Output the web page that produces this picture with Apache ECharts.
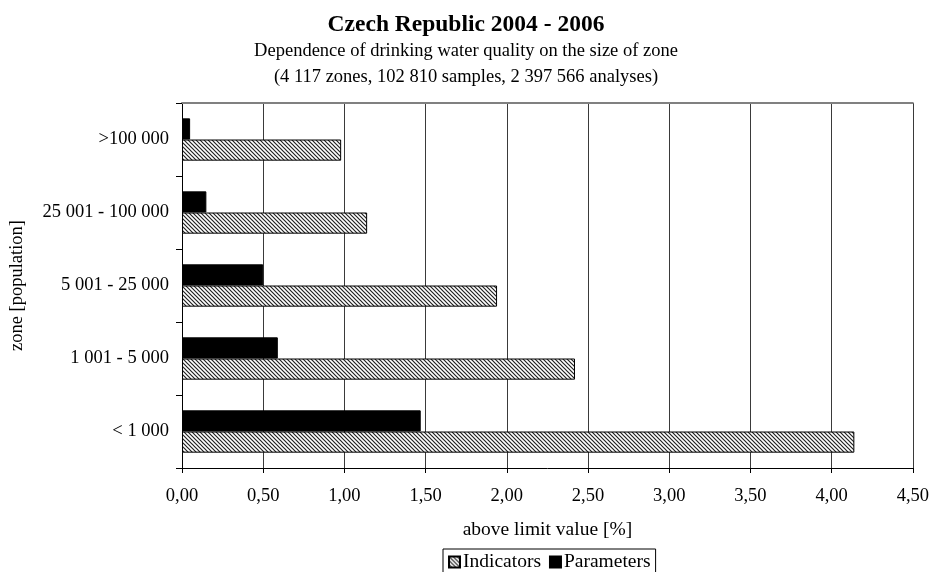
<!DOCTYPE html>
<html>
<head>
<meta charset="utf-8">
<title>Czech Republic 2004 - 2006</title>
<script src="https://cdn.jsdelivr.net/npm/echarts@6/dist/echarts.min.js"></script>
<style>
  html, body { margin: 0; padding: 0; background: #fff; }
  #chart { width: 932px; height: 572px; }
</style>
</head>
<body>
<div id="chart"></div>
<script>
// Zone size classes, listed from the bottom of the axis upwards
const zones = ['< 1 000', '1 001 - 5 000', '5 001 - 25 000', '25 001 - 100 000', '>100 000'];
// Share of results above the limit value [%]
const indicators = [4.14, 2.42, 1.94, 1.14, 0.98];
const parameters = [1.47, 0.59, 0.50, 0.15, 0.05];
// Value axis ticks
const xTicks = [0, 0.5, 1, 1.5, 2, 2.5, 3, 3.5, 4, 4.5];

const FONT = '"Liberation Serif", "DejaVu Serif", serif';
const FS = 18.5;
const FS_NAME = 19.5;

// Diagonal hatch fill for the Indicators bars
function hatch() {
  const c = document.createElement('canvas');
  c.width = 4; c.height = 4;
  const g = c.getContext('2d');
  g.fillStyle = '#fff';
  g.fillRect(0, 0, 4, 4);
  g.strokeStyle = '#222';
  g.lineWidth = 1.2;
  g.beginPath();
  g.moveTo(-1, -1); g.lineTo(5, 5);
  g.moveTo(-1, 3); g.lineTo(1, 5);
  g.moveTo(3, -1); g.lineTo(5, 1);
  g.stroke();
  return c;
}
const hatchFill = { image: hatch(), repeat: 'repeat' };

const chart = echarts.init(document.getElementById('chart'), null, { renderer: 'canvas' });

chart.setOption({
  animation: false,
  backgroundColor: '#fff',
  textStyle: { fontFamily: FONT, color: '#000' },
  title: {
    text: 'Czech Republic 2004 - 2006',
    subtext: 'Dependence of drinking water quality on the size of zone\n(4 117 zones, 102 810 samples, 2 397 566 analyses)',
    left: 'center',
    top: 12,
    itemGap: 0,
    padding: 0,
    textStyle: { fontFamily: FONT, fontSize: 23.5, fontWeight: 'bold', color: '#000', lineHeight: 26 },
    subtextStyle: { fontFamily: FONT, fontSize: FS, color: '#000', lineHeight: 26 }
  },
  legend: {
    data: ['Indicators', 'Parameters'],
    left: 443,
    top: 549,
    borderColor: '#000',
    borderWidth: 1,
    borderRadius: 0,
    padding: [3, 5, 3, 5],
    itemGap: 8,
    itemWidth: 11,
    itemHeight: 11,
    icon: 'rect',
    textStyle: { fontFamily: FONT, fontSize: FS_NAME, color: '#000', padding: [0, 0, 0, -2] }
  },
  grid: { left: 179, right: 19, top: 103, bottom: 104, containLabel: false },
  xAxis: [{
    type: 'value',
    min: xTicks[0],
    max: xTicks[xTicks.length - 1],
    interval: 0.5,
    position: 'bottom',
    name: 'above limit value [%]',
    nameLocation: 'middle',
    nameGap: 52,
    nameTextStyle: { fontFamily: FONT, fontSize: FS_NAME, color: '#000' },
    axisLine: { show: true, lineStyle: { color: '#000', width: 1 } },
    axisTick: { show: true, inside: false, length: 5, lineStyle: { color: '#000' } },
    axisLabel: {
      margin: 19,
      fontFamily: FONT, fontSize: FS, color: '#000',
      formatter: v => v.toFixed(2).replace('.', ',')
    },
    splitLine: { show: true, lineStyle: { color: '#3a3a3a', width: 1 } }
  }, {
    type: 'value',
    min: xTicks[0],
    max: xTicks[xTicks.length - 1],
    interval: 0.5,
    position: 'top',
    axisLine: { show: true, lineStyle: { color: '#808080', width: 2 } },
    axisTick: { show: false },
    axisLabel: { show: false },
    splitLine: { show: false }
  }],
  yAxis: {
    type: 'category',
    data: zones,
    name: 'zone [population]',
    nameLocation: 'middle',
    nameGap: 155,
    nameRotate: 90,
    nameTextStyle: { fontFamily: FONT, fontSize: FS, color: '#000' },
    axisLine: { show: true, lineStyle: { color: '#000', width: 1 } },
    axisTick: { show: true, inside: false, length: 6, lineStyle: { color: '#000' } },
    axisLabel: { margin: 13, fontFamily: FONT, fontSize: FS, color: '#000' },
    splitLine: { show: false }
  },
  series: [{
    name: 'Parameters',
    type: 'bar',
    data: parameters,
    barGap: '0%',
    barCategoryGap: '42%',
    itemStyle: { color: '#000', borderColor: '#000', borderWidth: 1 }
  }, {
    name: 'Indicators',
    type: 'bar',
    data: indicators,
    barGap: '0%',
    barCategoryGap: '42%',
    itemStyle: { color: hatchFill, borderColor: '#000', borderWidth: 1 }
  }]
});
</script>
</body>
</html>
